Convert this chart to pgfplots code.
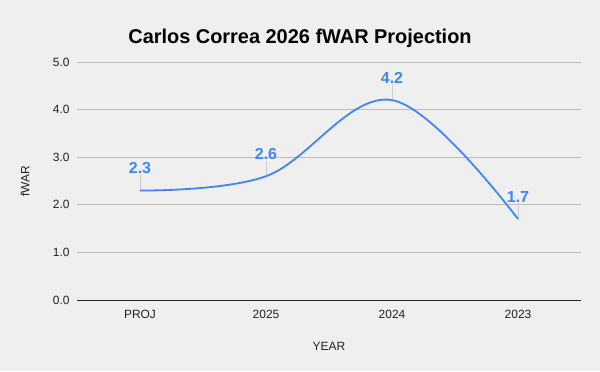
\documentclass[border=0pt]{standalone}
\usepackage{fontspec}
\setmainfont{Liberation Sans}
\usepackage{pgfplots}
\pgfplotsset{compat=1.18}
\definecolor{bg}{HTML}{EFEFEF}
\definecolor{lineblue}{HTML}{4285F4}
\definecolor{gridgray}{HTML}{BDBDBD}
\definecolor{txt}{HTML}{222222}
\begin{document}
\begin{tikzpicture}[x=1bp,y=1bp]
\fill[bg] (-77,-71) rectangle (523,300);
\begin{axis}[
  at={(0,0)}, anchor=south west,
  scale only axis, width=504bp, height=238bp,
  xmin=-0.5, xmax=3.5, ymin=0, ymax=5,
  xtick={0,1,2,3}, xticklabels={PROJ,2025,2024,2023},
  ytick={0,1,2,3,4,5},
  axis x line*=bottom, axis y line*=left,
  x axis line style={-, draw=black!85, line width=0.8bp},
  y axis line style={draw=none},
  major tick length=0pt,
  ymajorgrids, grid style={gridgray, line width=0.7bp},
  tick label style={font=\fontsize{12}{14}\selectfont, text=txt},
  /pgf/number format/assume math mode=true,
  yticklabel={\pgfmathprintnumber[fixed,fixed zerofill,precision=1]{\tick}},
  yticklabel style={anchor=east, xshift=-4bp},
  xticklabel style={anchor=base, yshift=-18bp},
  xlabel={YEAR}, ylabel={fWAR},
  label style={font=\fontsize{12}{14}\selectfont, text=txt},
  xlabel style={at={(axis description cs:0.5,0)}, anchor=base, yshift=-50bp},
  ylabel style={at={(axis description cs:-0.103,0.5)}, anchor=center},
  clip=false,
]
\addplot[draw=none, forget plot,
  error bars/.cd, y dir=plus, y explicit,
  error bar style={gray!40, line width=0.6bp}, error mark=none]
  coordinates {(0,2.3) +- (0,0.33) (1,2.6) +- (0,0.33) (2,4.2) +- (0,0.33) (3,1.7) +- (0,0.33)};
\addplot[lineblue, line width=1.8bp, smooth, tension=0.6, mark=none,
  nodes near coords, point meta=explicit symbolic,
  every node near coord/.append style={anchor=base, yshift=17bp, inner sep=0pt,
    font=\bfseries\fontsize{16}{18}\selectfont, text=lineblue}]
  coordinates {(0,2.3) [2.3] (1,2.6) [2.6] (2,4.2) [4.2] (3,1.7) [1.7]};
\end{axis}
\node[font=\bfseries\fontsize{20}{24}\selectfont, anchor=base] at (223,256.5) {Carlos Correa 2026 fWAR Projection};
\end{tikzpicture}
\end{document}
